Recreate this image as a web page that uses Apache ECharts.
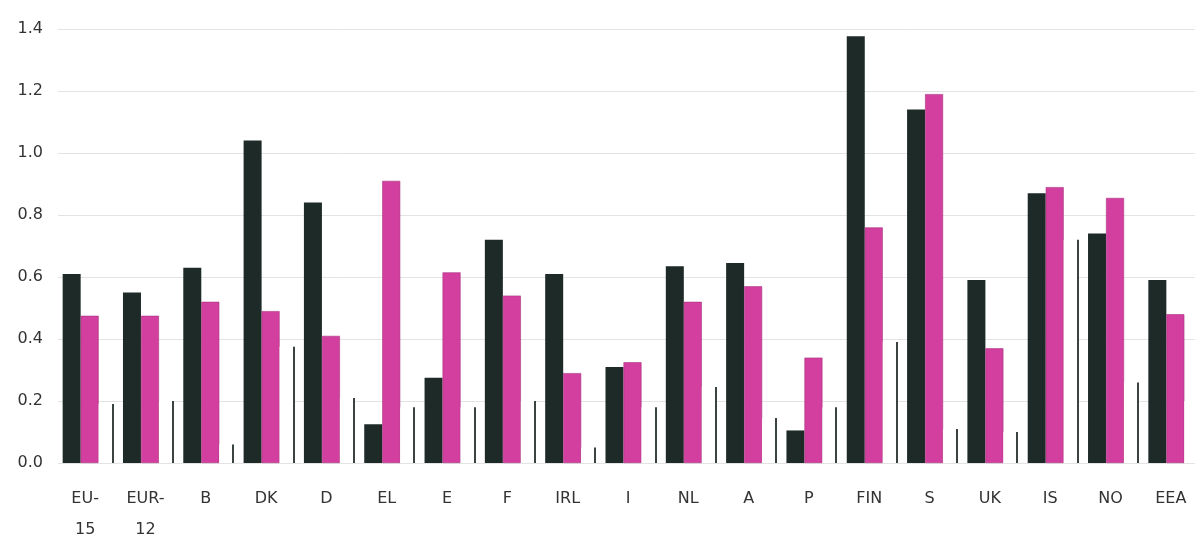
<!DOCTYPE html>
<html>
<head>
<meta charset="utf-8">
<script src="https://cdn.jsdelivr.net/npm/echarts@6/dist/echarts.min.js"></script>
<style>
html,body{margin:0;padding:0;background:#fff;}
#chart{width:1195px;height:536px;}
</style>
</head>
<body>
<div id="chart"></div>
<script>
const categories = ['EU-\n15','EUR-\n12','B','DK','D','EL','E','F','IRL','I','NL','A','P','FIN','S','UK','IS','NO','EEA'];
const seriesDark = [0.61,0.55,0.63,1.04,0.84,0.125,0.275,0.72,0.61,0.31,0.635,0.645,0.105,1.377,1.14,0.59,0.87,0.74,0.59];
const seriesMagenta = [0.475,0.475,0.52,0.49,0.41,0.91,0.615,0.54,0.29,0.325,0.52,0.57,0.34,0.76,1.19,0.37,0.89,0.855,0.48];
const seriesWhite = [0.19,0.20,0.06,0.375,0.21,0.18,0.18,0.20,0.05,0.18,0.245,0.145,0.18,0.39,0.11,0.10,0.72,0.26,0.20];
const yTicks = [0,0.2,0.4,0.6,0.8,1.0,1.2,1.4];

const chart = echarts.init(document.getElementById('chart'));
const font = 'DejaVu Sans, Liberation Sans, Arial, sans-serif';
chart.setOption({
  animation: false,
  backgroundColor: '#ffffff',
  grid: {left: 58, top: 29, width: 1146, bottom: 73, containLabel: false, outerBoundsMode: 'none'},
  xAxis: {
    type: 'category',
    data: categories,
    axisLine: {show: false},
    axisTick: {show: false},
    axisLabel: {color: '#333', fontFamily: font, fontSize: 16, margin: 20, lineHeight: 31, interval: 0, padding: [0, 6, 0, 0]}
  },
  yAxis: {
    type: 'value',
    min: yTicks[0],
    max: yTicks[yTicks.length-1],
    interval: 0.2,
    axisLine: {show: false},
    axisTick: {show: false},
    axisLabel: {color: '#333', fontFamily: font, fontSize: 16, margin: 15, formatter: v => v.toFixed(1)},
    splitLine: {lineStyle: {color: '#e3e3e3', width: 1}}
  },
  series: [
    {type: 'bar', data: seriesDark, barWidth: 18, barGap: '0%',
     itemStyle: {color: '#1d2a28'}},
    {type: 'bar', data: seriesMagenta, barWidth: 18, barGap: '0%',
     itemStyle: {color: '#d33f9f', borderColor: '#a8337f', borderWidth: 0.6}},
    {type: 'bar', data: seriesWhite, barWidth: 15, barGap: '0%',
     itemStyle: {color: '#ffffff'}},
    {type: 'custom', data: seriesWhite.map((v,i)=>[i,v]), z: 5,
     renderItem: function(params, api){
       const top = api.coord([api.value(0), api.value(1)]);
       const base = api.coord([api.value(0), 0]);
       const x = Math.round(top[0] + 24.5);
       return {type: 'line', shape: {x1: x, y1: base[1], x2: x, y2: top[1]},
               style: {stroke: '#3a4342', lineWidth: 2}};
     }}
  ]
});
</script>
</body>
</html>
